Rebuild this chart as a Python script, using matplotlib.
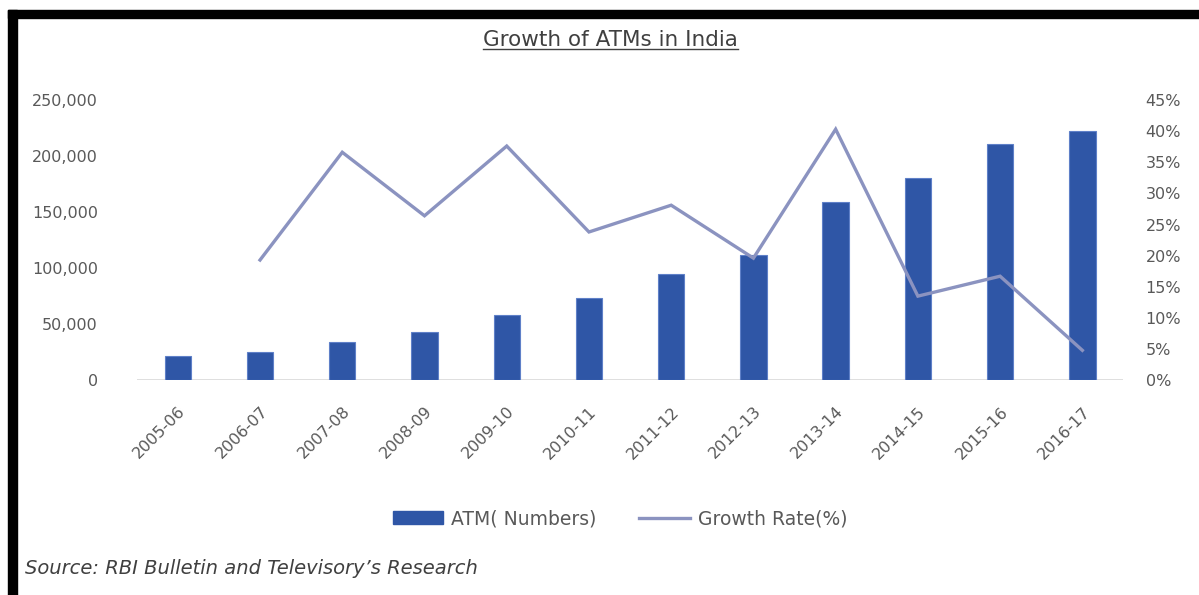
import matplotlib.pyplot as plt
import numpy as np
from matplotlib.patches import Rectangle
from matplotlib.lines import Line2D
from matplotlib.ticker import FuncFormatter

years = ['2005-06', '2006-07', '2007-08', '2008-09', '2009-10', '2010-11',
         '2011-12', '2012-13', '2013-14', '2014-15', '2015-16', '2016-17']
atms = [21400, 25000, 34000, 43000, 58000, 73000,
        95000, 112000, 159000, 180000, 211000, 222000]
# no growth figure for the first year
growth = [np.nan, 0.193, 0.366, 0.264, 0.376, 0.238,
          0.281, 0.196, 0.403, 0.135, 0.167, 0.048]

txt = '#595959'
bar_col = '#2f56a6'
line_col = '#8b93c0'
plt.rcParams['font.family'] = ['DejaVu Sans']

fig = plt.figure(figsize=(11.99, 5.95), dpi=100)
ax = fig.add_axes([0.114, 0.361, 0.823, 0.471])
ax2 = ax.twinx()

x = np.arange(len(years))
ax.bar(x, atms, width=0.32, color=bar_col, edgecolor='#5f80c8', linewidth=0.8, zorder=2)
ax2.plot(x, growth, color=line_col, lw=2.4, solid_joinstyle='miter')

ax.set_xlim(-0.5, len(years) - 0.5)
ax.set_ylim(0, 250000)
ax.set_yticks(np.arange(0, 250001, 50000))
ax.yaxis.set_major_formatter(FuncFormatter(lambda v, p: f'{int(v):,}'))
ax2.set_ylim(0, 0.45)
ax2.set_yticks(np.arange(0, 0.451, 0.05))
ax2.yaxis.set_major_formatter(FuncFormatter(lambda v, p: f'{v*100:.0f}%'))

ax.set_xticks(x)
ax.set_xticklabels(years, rotation=45, ha='right', va='top', rotation_mode='anchor')

for a in (ax, ax2):
    for s in a.spines.values():
        s.set_visible(False)
    a.tick_params(length=0, colors=txt, labelsize=11.5)
ax.tick_params(axis='y', pad=28)
ax2.tick_params(axis='y', pad=16)
ax.tick_params(axis='x', pad=17)
ax.axhline(0, color='#d9d9d9', lw=1.2, zorder=1)

# title with underline
title = fig.text(0.509, 0.932, 'Growth of ATMs in India', ha='center', va='center',
                 fontsize=15.5, color='#404040')
fig.canvas.draw()
bb = title.get_window_extent().transformed(fig.transFigure.inverted())
fig.add_artist(Line2D([bb.x0, bb.x1], [bb.y0 + 0.002, bb.y0 + 0.002],
                      color='#404040', lw=1.0))

handles = [Rectangle((0, 0), 1, 1, color=bar_col),
           Line2D([], [], color=line_col, lw=2.4)]
fig.legend(handles, ['ATM( Numbers)', 'Growth Rate(%)'], loc='center',
           bbox_to_anchor=(0.517, 0.128), ncol=2, frameon=False, fontsize=13.5,
           labelcolor=txt, handlelength=2.7, columnspacing=2.3, handletextpad=0.4)

fig.text(0.021, 0.045, "Source: RBI Bulletin and Televisory\u2019s Research",
         fontsize=14, style='italic', color='#404040', va='center')

# black frame on top and left
fig.add_artist(Rectangle((0.007, 0.97), 0.993, 0.013, color='black',
                         transform=fig.transFigure))
fig.add_artist(Rectangle((0.007, 0.0), 0.007, 0.983, color='black',
                         transform=fig.transFigure))

fig.savefig('out.png', dpi=100)
